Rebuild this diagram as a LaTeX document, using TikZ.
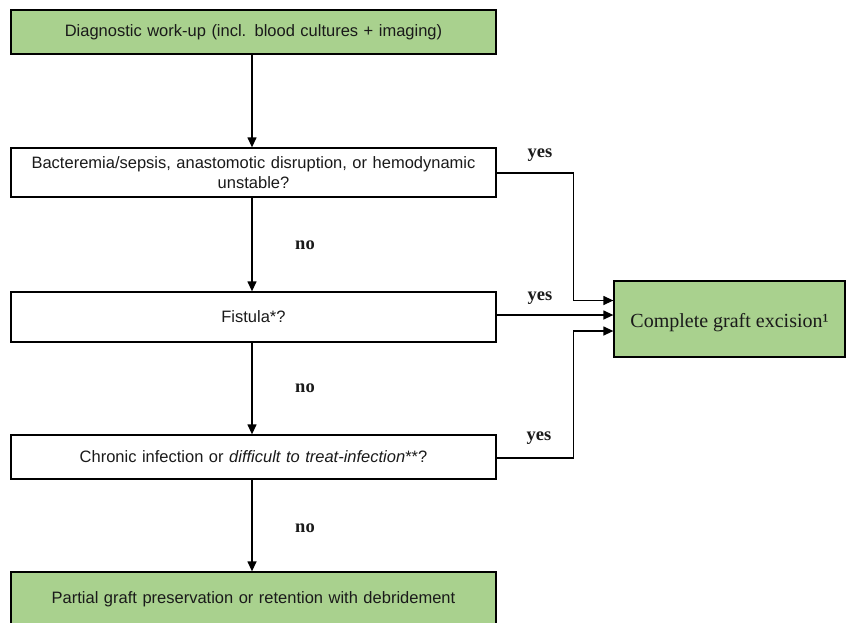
\documentclass[tikz,border=0pt]{standalone}
\usepackage{fontspec}
\setmainfont{Liberation Serif}
\setsansfont{Liberation Sans}
\usetikzlibrary{arrows.meta}
\definecolor{boxgreen}{HTML}{A9D18E}
\definecolor{txt}{HTML}{1A1A1A}
\tikzset{
  stepbox/.style={draw=black, line width=1.3pt, minimum width=485pt, text width=470pt, align=center, font=\sffamily\fontsize{16.5}{20}\selectfont, text=txt, inner sep=0pt},
  greenbox/.style={stepbox, fill=boxgreen},
  arr/.style={line width=1.3pt, -{Triangle[length=10pt,width=9pt]}},
  lbl/.style={font=\rmfamily\bfseries\fontsize{18.5}{20}\selectfont, text=txt, inner sep=0pt}
}
\begin{document}
\begin{tikzpicture}[x=1pt,y=-1pt]
\useasboundingbox (0,0) rectangle (846,622);
\node[greenbox, minimum height=44pt] (a) at (253.5,32) {Diagnostic work-up (incl. blood cultures + imaging)};
\node[stepbox, minimum height=49pt] (b) at (253.5,172.5) {Bacteremia/sepsis, anastomotic disruption, or hemodynamic\\ unstable?};
\node[stepbox, minimum height=50pt] (c) at (253.5,317) {Fistula*?};
\node[stepbox, minimum height=44pt] (d) at (253.5,457) {Chronic infection or \textit{difficult to treat-infection}**?};
\node[greenbox, minimum height=58pt] (e) at (253.5,601) {\raisebox{2pt}[\height][\depth]{Partial graft preservation or retention with debridement}};
\node[draw=black, line width=1.3pt, fill=boxgreen, minimum width=231pt, minimum height=76pt, inner sep=0pt, font=\rmfamily\fontsize{20}{24}\selectfont, text=txt] (f) at (729.5,319) {\raisebox{-4pt}[\height][\depth]{Complete graft excision¹}};
% vertical arrows
\draw[arr] (a.south -| 252,0) -- (b.north -| 252,0);
\draw[arr] (b.south -| 252,0) -- (c.north -| 252,0);
\draw[arr] (c.south -| 252,0) -- (d.north -| 252,0);
\draw[arr] (d.south -| 252,0) -- (e.north -| 252,0);
% yes connectors
\coordinate (k1) at (573.5,173);
\coordinate (k2) at (573.5,458);
\draw[arr] (b.east |- k1) -- (k1) |- (f.west |- 0,300.5);
\draw[arr] (c.east |- 0,315) -- (f.west |- 0,315);
\draw[arr] (d.east |- k2) -- (k2) |- (f.west |- 0,331);
% labels
\node[lbl] (y1) at (540,155) {yes};
\node[lbl] (y2) at (540,298) {yes};
\node[lbl] (y3) at (539,438) {yes};
\node[lbl] (n1) at (305,245) {no};
\node[lbl] (n2) at (305,388) {no};
\node[lbl] (n3) at (305,528) {no};
\end{tikzpicture}
\end{document}
